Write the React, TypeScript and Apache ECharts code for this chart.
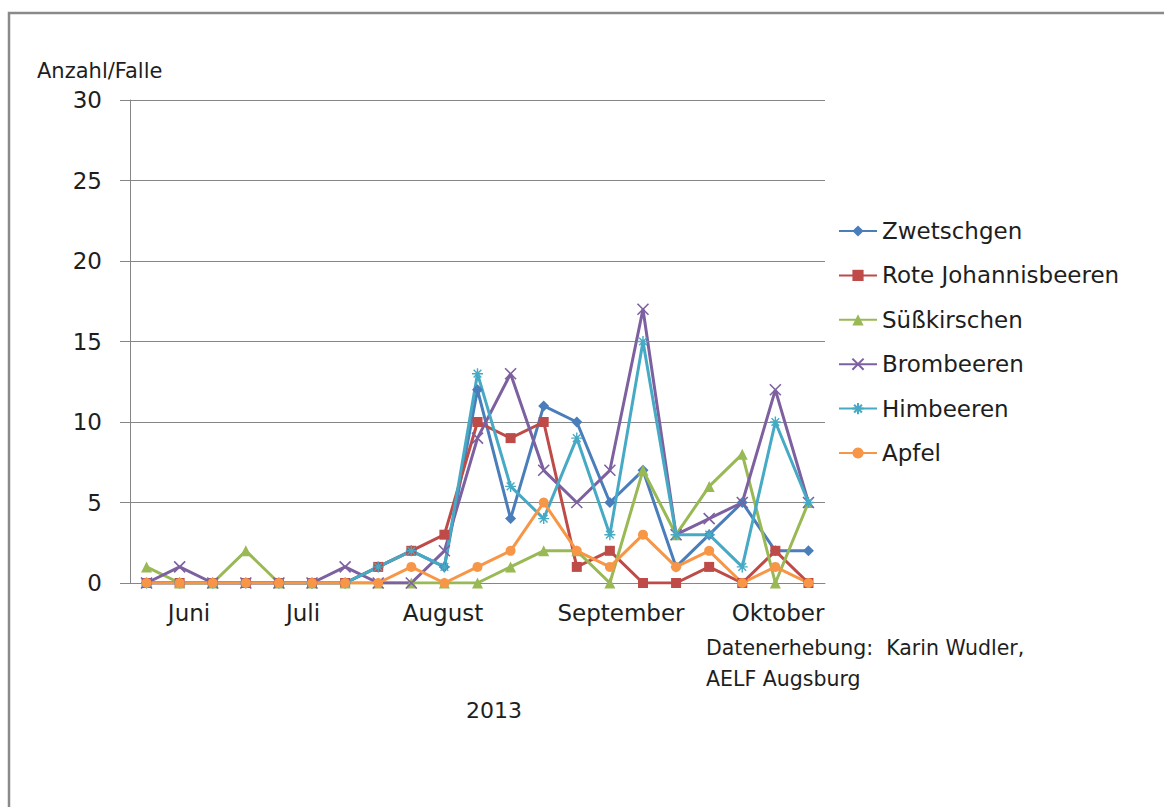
import React, { useEffect, useRef } from "react";
import * as echarts from "echarts";

// 21 trap samplings, 2013 (dates not given in the chart)
const samplings = [
  "1", "2", "3", "4", "5", "6", "7", "8", "9", "10", "11",
  "12", "13", "14", "15", "16", "17", "18", "19", "20", "21",
];

const zwetschgen = [0, 0, 0, 0, 0, 0, 0, 1, 2, 1, 12, 4, 11, 10, 5, 7, 1, 3, 5, 2, 2];
const roteJohannisbeeren = [0, 0, 0, 0, 0, 0, 0, 1, 2, 3, 10, 9, 10, 1, 2, 0, 0, 1, 0, 2, 0];
const suesskirschen = [1, 0, 0, 2, 0, 0, 0, 0, 0, 0, 0, 1, 2, 2, 0, 7, 3, 6, 8, 0, 5];
const brombeeren = [0, 1, 0, 0, 0, 0, 1, 0, 0, 2, 9, 13, 7, 5, 7, 17, 3, 4, 5, 12, 5];
const himbeeren = [0, 0, 0, 0, 0, 0, 0, 1, 2, 1, 13, 6, 4, 9, 3, 15, 3, 3, 1, 10, 5];
const apfel = [0, 0, 0, 0, 0, 0, 0, 0, 1, 0, 1, 2, 5, 2, 1, 3, 1, 2, 0, 1, 0];

const seriesNames = [
  "Zwetschgen",
  "Rote Johannisbeeren",
  "Süßkirschen",
  "Brombeeren",
  "Himbeeren",
  "Apfel",
];

const monthLabels = ["Juni", "Juli", "August", "September", "Oktober"];
const yTicks = { min: 0, max: 30, interval: 5 };
const yAxisTitle = "Anzahl/Falle";
const xAxisTitle = "2013";
const sourceLines = ["Datenerhebung:  Karin Wudler,", "AELF Augsburg"];

const FONT = "DejaVu Sans";
const TEXT = "#1e1e1e";
const GRID = "#868686";

export default function App() {
  const ref = useRef<HTMLDivElement>(null);

  useEffect(() => {
    if (!ref.current) return;
    const chart = echarts.init(ref.current, undefined, { renderer: "svg" });

    const styles = [
      { color: "#4A7EBB", symbol: "diamond", size: 11, border: 0 },
      { color: "#BE4B48", symbol: "rect", size: 10, border: 0 },
      { color: "#98B954", symbol: "triangle", size: 11, border: 0 },
      { color: "#7D60A0", symbol: "path://M0,0L10,10M10,0L0,10", size: 11, border: 1.6 },
      { color: "#46AAC5", symbol: "path://M5,0L5,10M0,5L10,5M1.5,1.5L8.5,8.5M8.5,1.5L1.5,8.5", size: 11, border: 1.4 },
      { color: "#F79646", symbol: "circle", size: 10, border: 0 },
    ];
    const values = [zwetschgen, roteJohannisbeeren, suesskirschen, brombeeren, himbeeren, apfel];

    const MONTH_X = [189, 303, 443, 621, 778];

    chart.setOption({
      animation: false,
      backgroundColor: "#ffffff",
      textStyle: { fontFamily: FONT },
      grid: { left: 130, right: 339, top: 100, bottom: 224 },
      legend: {
        orient: "vertical",
        left: 838,
        top: 219,
        padding: 0,
        itemWidth: 38,
        itemHeight: 14,
        itemGap: 20.4,
        data: seriesNames,
        textStyle: { fontFamily: FONT, fontSize: 23, color: TEXT, lineHeight: 24 },
      },
      xAxis: {
        type: "category",
        data: samplings,
        boundaryGap: true,
        axisLine: { show: true, lineStyle: { color: GRID, width: 1 } },
        axisTick: { show: false },
        axisLabel: { show: false },
        splitLine: { show: false },
      },
      yAxis: {
        type: "value",
        min: yTicks.min,
        max: yTicks.max,
        interval: yTicks.interval,
        axisLine: { show: true, lineStyle: { color: GRID, width: 1 } },
        axisTick: { show: true, length: 10, lineStyle: { color: GRID } },
        axisLabel: { margin: 28, fontFamily: FONT, fontSize: 23, color: TEXT },
        splitLine: { show: true, lineStyle: { color: GRID, width: 1 } },
      },
      series: seriesNames.map((name, k) => ({
        name,
        type: "line",
        data: values[k],
        symbol: styles[k].symbol,
        symbolSize: styles[k].size,
        showAllSymbol: true,
        lineStyle: { color: styles[k].color, width: 3 },
        itemStyle: {
          color: styles[k].color,
          borderColor: styles[k].color,
          borderWidth: styles[k].border,
        },
        emphasis: { disabled: true },
      })),
      graphic: [
        {
          type: "rect",
          shape: { x: 9, y: 13, width: 1300, height: 900 },
          style: { fill: "none", stroke: "#8a8a8a", lineWidth: 2.5 },
          silent: true,
        },
        {
          type: "text",
          x: 37,
          y: 71,
          style: { text: yAxisTitle, font: `21px "${FONT}"`, fill: TEXT, textAlign: "left", textVerticalAlign: "middle" },
        },
        ...monthLabels.map((m, i) => ({
          type: "text",
          x: MONTH_X[i],
          y: 613,
          style: { text: m, font: `23px "${FONT}"`, fill: TEXT, textAlign: "center", textVerticalAlign: "middle" },
        })),
        ...sourceLines.map((s, i) => ({
          type: "text",
          x: 706,
          y: 648 + i * 31,
          style: { text: s, font: `20.5px "${FONT}"`, fill: TEXT, textAlign: "left", textVerticalAlign: "middle" },
        })),
        {
          type: "text",
          x: 494,
          y: 710,
          style: { text: xAxisTitle, font: `22px "${FONT}"`, fill: TEXT, textAlign: "center", textVerticalAlign: "middle" },
        },
      ],
    });

    return () => chart.dispose();
  }, []);

  return (
    <div
      ref={ref}
      style={{ position: "fixed", left: 0, top: 0, width: 1164, height: 807, background: "#fff" }}
    />
  );
}
